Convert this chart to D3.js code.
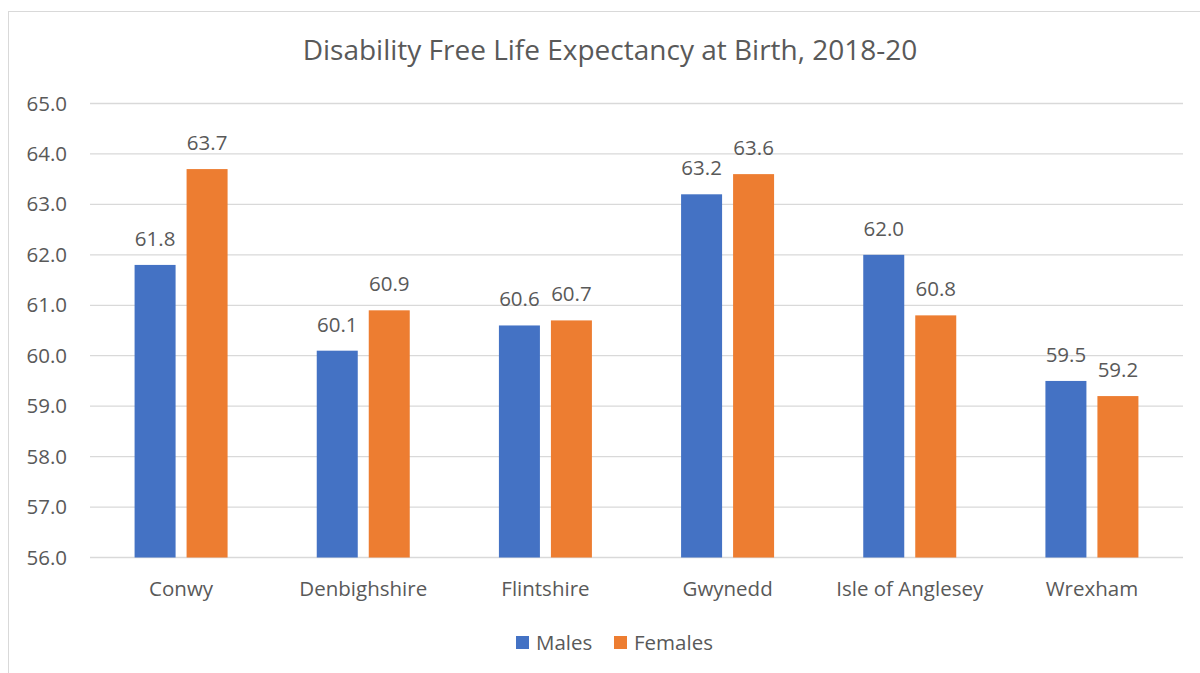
<!DOCTYPE html>
<html>
<head>
<meta charset="utf-8">
<script src="https://cdn.jsdelivr.net/npm/d3@7"></script>
<style>
  html, body { margin: 0; padding: 0; background: #fff; }
  svg { display: block; }
  text { font-family: "Open Sans", sans-serif; fill: #595959; }
</style>
</head>
<body>
<svg id="chart" width="1200" height="673"></svg>
<script>
// Disability free life expectancy at birth, 2018-20, by local authority
const categories = ["Conwy", "Denbighshire", "Flintshire", "Gwynedd", "Isle of Anglesey", "Wrexham"];
const seriesNames = ["Males", "Females"];
const males   = [61.8, 60.1, 60.6, 63.2, 62.0, 59.5];
const females = [63.7, 60.9, 60.7, 63.6, 60.8, 59.2];
const yTicks  = [56, 57, 58, 59, 60, 61, 62, 63, 64, 65];
const colors  = ["#4472C4", "#ED7D31"];
const titleText = "Disability Free Life Expectancy at Birth, 2018-20";

const FONT = '"Open Sans", sans-serif';
const LABEL_SIZE = 20.5;
const svg = d3.select("#chart");

// chart area frame
svg.append("rect")
  .attr("x", 8.5).attr("y", 11.5)
  .attr("width", 1220).attr("height", 700)
  .attr("fill", "#fff").attr("stroke", "#D9D9D9").attr("stroke-width", 1);

const plot = { left: 90, right: 1183, top: 103.5, bottom: 557.5 };

const x0 = d3.scaleBand().domain(categories).range([plot.left, plot.right]).padding(0);
const bandW = x0.bandwidth();
const x1 = d3.scaleBand().domain(seriesNames)
  .range([bandW / 2 - 46.5, bandW / 2 + 46.5])
  .paddingInner(11 / 52).paddingOuter(0);
const y = d3.scaleLinear().domain([56, 65]).range([plot.bottom, plot.top]);

// gridlines
svg.append("g")
  .selectAll("line").data(yTicks).join("line")
  .attr("x1", plot.left).attr("x2", plot.right)
  .attr("y1", d => y(d)).attr("y2", d => y(d))
  .attr("stroke", "#D9D9D9").attr("stroke-width", 1.3);

// y axis labels
const yAxis = d3.axisLeft(y).tickValues(yTicks).tickFormat(d3.format(".1f")).tickSize(0).tickPadding(0);
const ya = svg.append("g").attr("transform", "translate(67,0)").call(yAxis);
ya.select(".domain").remove();
ya.selectAll("text").attr("font-size", LABEL_SIZE).attr("fill", "#595959").style("font-family", FONT);

// x axis labels
const xAxis = d3.axisBottom(x0).tickSize(0).tickPadding(0);
const xa = svg.append("g").attr("transform", `translate(0,${plot.bottom + 24})`).call(xAxis);
xa.select(".domain").remove();
xa.selectAll("text").attr("font-size", LABEL_SIZE).attr("fill", "#595959").style("font-family", FONT);

const rows = categories.map((c, i) => ({ cat: c, values: [males[i], females[i]] }));

const groups = svg.append("g").selectAll("g").data(rows).join("g")
  .attr("transform", d => `translate(${x0(d.cat)},0)`);

groups.selectAll("rect")
  .data(d => d.values.map((v, j) => ({ name: seriesNames[j], v, j })))
  .join("rect")
  .attr("x", d => x1(d.name))
  .attr("width", x1.bandwidth())
  .attr("y", d => y(d.v))
  .attr("height", d => y(56) - y(d.v))
  .attr("fill", d => colors[d.j]);

groups.selectAll("text.val")
  .data(d => d.values.map((v, j) => ({ name: seriesNames[j], v, j })))
  .join("text")
  .attr("class", "val")
  .attr("x", d => x1(d.name) + x1.bandwidth() / 2)
  .attr("y", d => y(d.v) - 19)
  .attr("text-anchor", "middle")
  .attr("font-size", LABEL_SIZE)
  .text(d => d3.format(".1f")(d.v));

// title
svg.append("text")
  .attr("x", 610).attr("y", 60)
  .attr("text-anchor", "middle")
  .attr("font-size", 28)
  .text(titleText);

// legend
const legend = svg.append("g");
const legendItems = [{ name: "Males", x: 516 }, { name: "Females", x: 614 }];
legendItems.forEach((it, j) => {
  legend.append("rect").attr("x", it.x).attr("y", 636).attr("width", 13).attr("height", 13).attr("fill", colors[j]);
  legend.append("text").attr("x", it.x + 20).attr("y", 650).attr("font-size", LABEL_SIZE).text(it.name);
});
</script>
</body>
</html>
